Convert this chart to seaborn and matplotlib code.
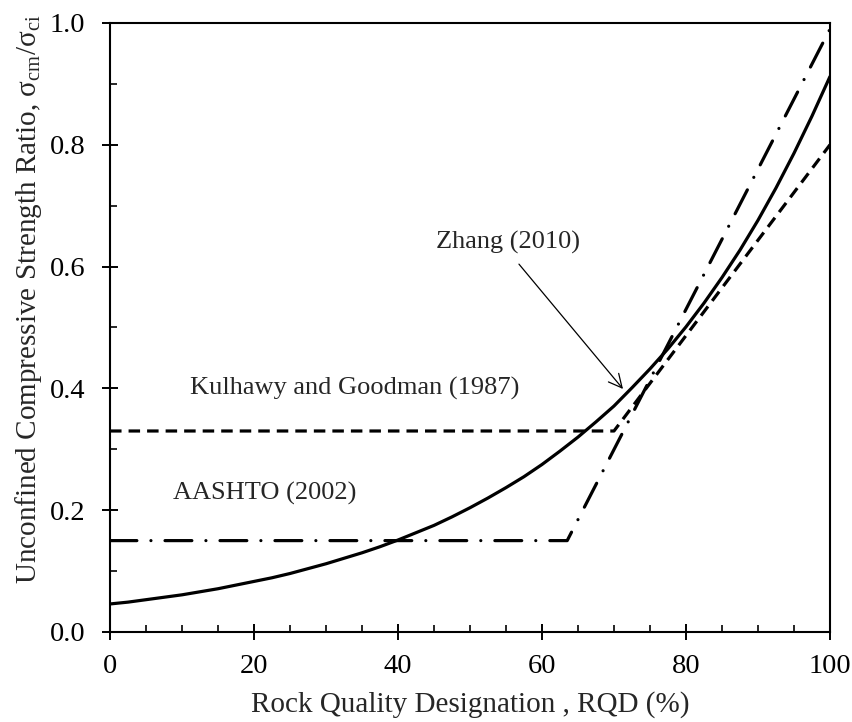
import matplotlib
matplotlib.use("Agg")
import matplotlib.pyplot as plt
from matplotlib.ticker import MultipleLocator
import seaborn as sns
import pandas as pd

# Zhang (2010) curve, values read at every 2.5 % RQD
zhang_rqd = [0, 2.5, 5, 7.5, 10, 12.5, 15, 17.5, 20, 22.5, 25, 27.5, 30,
             32.5, 35, 37.5, 40, 42.5, 45, 47.5, 50, 52.5, 55, 57.5, 60,
             62.5, 65, 67.5, 70, 72.5, 75, 77.5, 80, 82.5, 85, 87.5, 90,
             92.5, 95, 97.5, 100]
zhang_ratio = [0.046, 0.049, 0.053, 0.057, 0.061, 0.066, 0.071, 0.077,
               0.083, 0.089, 0.096, 0.104, 0.112, 0.121, 0.130, 0.140,
               0.151, 0.163, 0.175, 0.189, 0.204, 0.220, 0.237, 0.255,
               0.275, 0.297, 0.320, 0.345, 0.371, 0.401, 0.432, 0.465,
               0.501, 0.540, 0.582, 0.627, 0.676, 0.729, 0.786, 0.847,
               0.912]

# Kulhawy and Goodman (1987)
kg_rqd = [0, 70, 100]
kg_ratio = [0.33, 0.33, 0.80]

# AASHTO (2002)
aashto_rqd = [0, 63.5, 100]
aashto_ratio = [0.15, 0.15, 0.99]

x_ticks = [0, 20, 40, 60, 80, 100]
y_ticks = [0.0, 0.2, 0.4, 0.6, 0.8, 1.0]

sns.set_style("ticks")
plt.rcParams["font.family"] = ["Liberation Serif", "DejaVu Serif"]
plt.rcParams["mathtext.fontset"] = "custom"
plt.rcParams["mathtext.rm"] = "Liberation Serif"
plt.rcParams["mathtext.it"] = "Liberation Serif:italic"

fig = plt.figure(figsize=(8.53, 7.22), dpi=100)
ax = fig.add_axes([0.129, 0.1247, 0.844, 0.8435])

zhang = pd.DataFrame({"RQD": zhang_rqd, "ratio": zhang_ratio})
kg = pd.DataFrame({"RQD": kg_rqd, "ratio": kg_ratio})
aashto = pd.DataFrame({"RQD": aashto_rqd, "ratio": aashto_ratio})

lw = 2.3
sns.lineplot(data=zhang, x="RQD", y="ratio", ax=ax, color="black", lw=lw,
             solid_capstyle="round", solid_joinstyle="round")
sns.lineplot(data=kg, x="RQD", y="ratio", ax=ax, color="black", lw=lw,
             linestyle=(0, (3.6, 2.2)), dash_capstyle="butt")
sns.lineplot(data=aashto, x="RQD", y="ratio", ax=ax, color="black", lw=lw,
             linestyle=(0, (8.4, 4.4, 0.01, 4.4)), dash_capstyle="round")

ax.set_xlim(0, 100)
ax.set_ylim(0, 1.0)
ax.set_xticks(x_ticks)
ax.set_yticks(y_ticks)
ax.set_xticklabels([str(v) for v in x_ticks])
ax.set_yticklabels([f"{v:.1f}" for v in y_ticks])
ax.xaxis.set_minor_locator(MultipleLocator(5))
ax.yaxis.set_minor_locator(MultipleLocator(0.1))

ax.tick_params(which="major", direction="inout", length=11.5, width=1.4,
               labelsize=20.5, colors="black")
ax.tick_params(axis="y", which="major", pad=12)
ax.tick_params(axis="x", which="major", pad=10)
ax.tick_params(which="minor", direction="in", length=5, width=1.4)
for side in ["left", "right", "top", "bottom"]:
    ax.spines[side].set_visible(True)
    ax.spines[side].set_linewidth(1.5)
    ax.spines[side].set_color("black")

ax.set_xlabel("Rock Quality Designation , RQD (%)", fontsize=21, labelpad=9)
ax.set_ylabel("Unconfined Compressive Strength Ratio, "
              r"σ$_{\rm cm}$/σ$_{\rm ci}$", fontsize=21)
ax.yaxis.set_label_coords(-0.092, 0.546)

ax.text(11.1, 0.40, "Kulhawy and Goodman (1987)", fontsize=19,
        va="center", ha="left")
ax.text(8.75, 0.228, "AASHTO (2002)", fontsize=19, va="center", ha="left")
ax.text(55.3, 0.639, "Zhang (2010)", fontsize=19, va="center", ha="center")
ax.annotate("", xy=(71.25, 0.399), xytext=(56.8, 0.604),
            arrowprops=dict(arrowstyle="->", color="black", lw=0.9,
                            mutation_scale=24, shrinkA=0, shrinkB=0))

fig.savefig("out.png", dpi=100)
